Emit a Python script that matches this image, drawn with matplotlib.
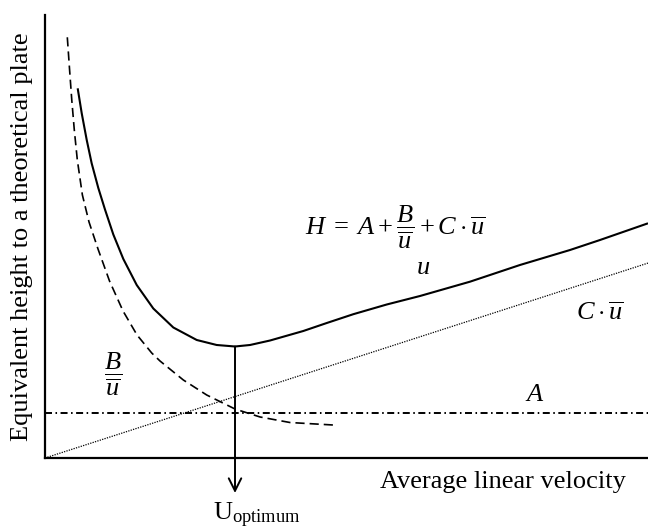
import matplotlib
matplotlib.use('Agg')
import matplotlib.pyplot as plt

plt.rcParams['font.family'] = 'Liberation Serif'
plt.rcParams['mathtext.fontset'] = 'custom'
plt.rcParams['mathtext.rm'] = 'Liberation Serif'
plt.rcParams['mathtext.it'] = 'Liberation Serif:italic'

# total plate height H (solid curve)
h_u = [0.542, 0.609, 0.692, 0.774, 0.884, 0.995, 1.133, 1.299, 1.521, 1.796,
       2.128, 2.516, 2.847, 3.151, 3.400, 3.731, 4.284, 4.672, 5.113, 5.667,
       6.219, 7.048, 7.877, 8.706, 9.204, 10.0]
h_val = [8.345, 7.781, 7.178, 6.652, 6.095, 5.609, 5.045, 4.492, 3.905, 3.375,
         2.946, 2.664, 2.551, 2.517, 2.551, 2.652, 2.867, 3.047, 3.246, 3.465,
         3.657, 3.980, 4.357, 4.695, 4.921, 5.298]

# longitudinal diffusion term B/u (dashed)
b_u = [0.370, 0.408, 0.444, 0.486, 0.536, 0.620, 0.730, 0.879, 1.070, 1.294,
       1.526, 1.770, 1.907, 2.294, 2.682, 3.151, 3.566, 4.063, 4.776]
b_val = [9.497, 8.758, 8.081, 7.404, 6.727, 5.937, 5.327, 4.718, 3.995, 3.318,
         2.777, 2.370, 2.190, 1.761, 1.422, 1.106, 0.926, 0.801, 0.745]

# mass transfer term C*u (dotted)
c_u = [0.0, 10.0]
c_val = [0.0, 4.40]

# eddy diffusion term A (dash-dot)
a_val = 1.01

u_opt = 3.151
h_min = 2.517
arrow_end = -0.79

fig = plt.figure(figsize=(6.48, 5.29), dpi=100)
ax = fig.add_axes([45/648, 71/529, 603/648, 443/529])
ax.set_xlim(0, 10)
ax.set_ylim(0, 10)

ax.plot(h_u, h_val, color='black', lw=1.5, solid_capstyle='butt', solid_joinstyle='round')
ax.plot(b_u, b_val, color='black', lw=1.2, linestyle=(0, (5.5, 3)))
ax.plot(c_u, c_val, color='black', lw=0.9, linestyle=(0, (1, 1)))
ax.axhline(a_val, color='black', lw=1.4, linestyle=(0, (3.6, 1.8, 0.8, 1.8)))

# vertical drop from the minimum down past the axis
ax.annotate('', xy=(u_opt, arrow_end), xytext=(u_opt, h_min),
            arrowprops=dict(arrowstyle='->,head_length=0.9,head_width=0.45',
                            color='black', lw=1.4, shrinkA=0, shrinkB=0),
            annotation_clip=False)

for side in ['top', 'right']:
    ax.spines[side].set_visible(False)
for side in ['left', 'bottom']:
    ax.spines[side].set_linewidth(1.6)
ax.set_xticks([])
ax.set_yticks([])

fs = 19
fig.text(22/648, 1 - 237/529, 'Equivalent height to a theoretical plate', fontsize=fs,
         rotation=90, ha='center', va='center')
ax.text(5.556, -0.54, 'Average linear velocity', fontsize=fs, ha='left', va='center')
ax.text(2.79, -1.40, r'U$_{\mathregular{optimum}}$', fontsize=fs, ha='left', va='baseline')

ax.text(4.31, 5.19, r'$H\;=\;A+\dfrac{B}{\overline{u}}+C\cdot\overline{u}$', fontsize=fs,
        ha='left', va='center')
ax.text(6.27, 4.29, r'$u$', fontsize=fs, ha='center', va='center')
ax.text(1.13, 1.87, r'$\dfrac{B}{\overline{u}}$', fontsize=fs, ha='center', va='center')
ax.text(9.2, 3.27, r'$C\cdot\overline{u}$', fontsize=fs, ha='center', va='center')
ax.text(8.13, 1.42, r'$A$', fontsize=fs, ha='center', va='center')

fig.savefig('out.png', dpi=100)
